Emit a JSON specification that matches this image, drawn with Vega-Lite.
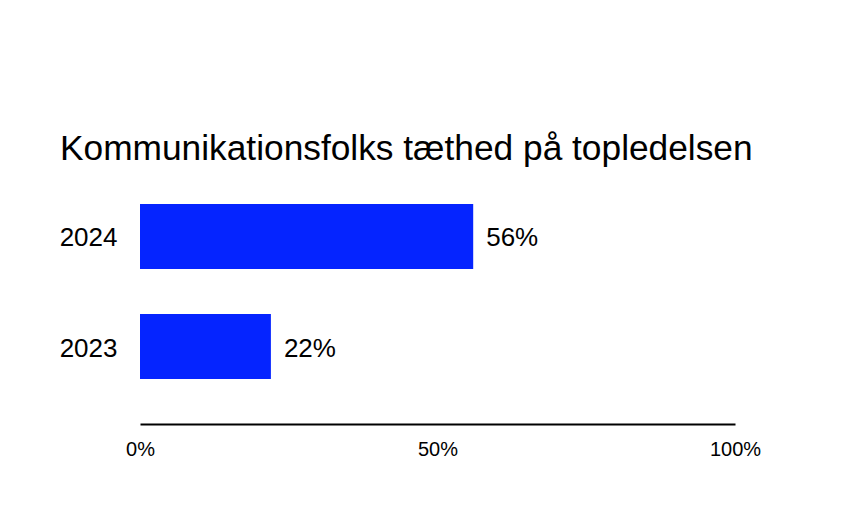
{
  "$schema": "https://vega.github.io/schema/vega-lite/v6.json",
  "autosize": {"type": "none"},
  "padding": {"left": 140, "top": 182, "right": 116, "bottom": 127},
  "width": 595,
  "height": 219,
  "background": "white",
  "title": {
    "text": "Kommunikationsfolks tæthed på topledelsen",
    "anchor": "start",
    "frame": "group",
    "font": "Liberation Sans",
    "fontSize": 35.3,
    "fontWeight": "normal",
    "color": "black",
    "baseline": "alphabetic",
    "offset": 22,
    "dx": -80,
    "dy": 35
  },
  "config": {
    "view": {"stroke": null},
    "font": "Liberation Sans"
  },
  "data": {
    "values": [
      {"year": "2024", "share": 0.56},
      {"year": "2023", "share": 0.22}
    ]
  },
  "encoding": {
    "y": {
      "field": "year",
      "type": "nominal",
      "sort": ["2024", "2023"],
      "scale": {"paddingInner": 0.41, "paddingOuter": 0.2},
      "axis": {
        "title": null,
        "ticks": false,
        "domain": false,
        "labelFontSize": 26,
        "labelColor": "black",
        "labelPadding": 23,
        "labelOffset": 2
      }
    },
    "x": {
      "field": "share",
      "type": "quantitative",
      "scale": {"domain": [0, 1]},
      "axis": {
        "title": null,
        "values": [0, 0.5, 1],
        "format": ".0%",
        "grid": false,
        "ticks": false,
        "domainColor": "black",
        "domainWidth": 2,
        "offset": 23,
        "labelFontSize": 20,
        "labelColor": "black",
        "labelPadding": 15,
        "labelFlush": false
      }
    }
  },
  "layer": [
    {"mark": {"type": "bar", "color": "#0524ff"}},
    {
      "mark": {"type": "text", "align": "left", "baseline": "middle", "dx": 13, "dy": 2, "fontSize": 26, "color": "black"},
      "encoding": {"text": {"field": "share", "type": "quantitative", "format": ".0%"}}
    }
  ]
}
